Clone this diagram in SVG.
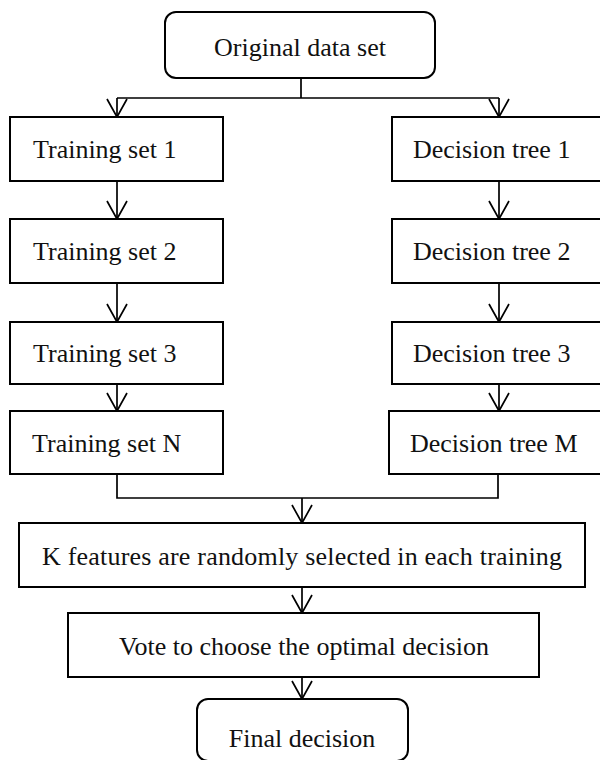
<svg xmlns="http://www.w3.org/2000/svg" width="600" height="760" viewBox="0 0 600 760">
<style>
.box{fill:#fff;stroke:#000;stroke-width:2}
.t{font-family:"Liberation Serif","Times New Roman",serif;font-size:26px;fill:#111}
.c{text-anchor:middle}
.ln{fill:none;stroke:#000;stroke-width:1.7}
</style>
<defs>
<marker id="arr" viewBox="-20 -12 22 24" refX="0" refY="0" markerWidth="22" markerHeight="24" markerUnits="userSpaceOnUse" orient="auto">
<path d="M-18,-10 L0,0 L-18,10" fill="none" stroke="#000" stroke-width="1.7"/>
</marker>
</defs>
<rect width="600" height="760" fill="#fff"/>
<g id="connectors">
<path class="ln" d="M301,78 V98 M117,98 H499"/>
<path class="ln" d="M117,98 V117" marker-end="url(#arr)"/>
<path class="ln" d="M499,98 V117" marker-end="url(#arr)"/>
<path class="ln" d="M117,181 V219" marker-end="url(#arr)"/>
<path class="ln" d="M117,283 V322" marker-end="url(#arr)"/>
<path class="ln" d="M117,384 V411" marker-end="url(#arr)"/>
<path class="ln" d="M499,181 V219" marker-end="url(#arr)"/>
<path class="ln" d="M499,283 V322" marker-end="url(#arr)"/>
<path class="ln" d="M499,384 V411" marker-end="url(#arr)"/>
<path class="ln" d="M117,474 V498 H498 V474"/>
<path class="ln" d="M302,498 V523" marker-end="url(#arr)"/>
<path class="ln" d="M302,587 V613" marker-end="url(#arr)"/>
<path class="ln" d="M302,677 V699" marker-end="url(#arr)"/>
</g>
<g id="original">
<rect class="box" x="165" y="12" width="270" height="66" rx="11"/>
<text class="t c" x="300" y="56">Original data set</text>
</g>
<g id="ts1"><rect class="box" x="10" y="117" width="213" height="64"/><text class="t" x="33" y="158">Training set 1</text></g>
<g id="ts2"><rect class="box" x="10" y="219" width="213" height="64"/><text class="t" x="33" y="260">Training set 2</text></g>
<g id="ts3"><rect class="box" x="10" y="322" width="213" height="62"/><text class="t" x="33" y="362">Training set 3</text></g>
<g id="tsN"><rect class="box" x="10" y="411" width="213" height="63"/><text class="t" x="32" y="452">Training set N</text></g>
<g id="dt1"><rect class="box" x="392" y="117" width="215" height="64"/><text class="t" x="413" y="158">Decision tree 1</text></g>
<g id="dt2"><rect class="box" x="392" y="219" width="215" height="64"/><text class="t" x="413" y="260">Decision tree 2</text></g>
<g id="dt3"><rect class="box" x="392" y="322" width="215" height="62"/><text class="t" x="413" y="362">Decision tree 3</text></g>
<g id="dtM"><rect class="box" x="389" y="411" width="218" height="63"/><text class="t" x="410" y="452">Decision tree M</text></g>
<g id="kfeatures"><rect class="box" x="19" y="523" width="566" height="64"/><text class="t c" x="302" y="565" textLength="520">K features are randomly selected in each training</text></g>
<g id="vote"><rect class="box" x="68" y="613" width="471" height="64"/><text class="t c" x="304" y="655">Vote to choose the optimal decision</text></g>
<g id="final"><rect class="box" x="197" y="699" width="211" height="62" rx="11"/><text class="t c" x="302" y="747">Final decision</text></g>
</svg>
